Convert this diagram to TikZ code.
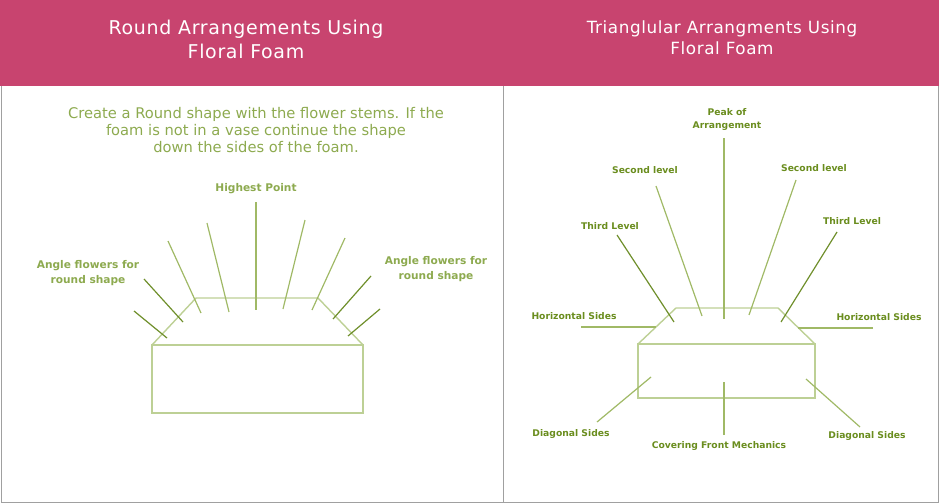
\documentclass[tikz,border=0pt]{standalone}
\usepackage{fontspec}
\setmainfont{DejaVu Sans}

\definecolor{kopf}{HTML}{C8446F}
\definecolor{textgruen}{HTML}{8DAA4F}
\definecolor{dunkelgruen}{HTML}{6A8D1E}
\definecolor{stielgruen}{HTML}{A0B966}
\definecolor{winkelgruen}{HTML}{6F8F2B}
\definecolor{schaumgruen}{HTML}{BDD095}
\definecolor{rahmengrau}{HTML}{A0A0A0}

\begin{document}
\begin{tikzpicture}[x=1pt,y=-1pt,
    titel/.style={text=white, align=center, font=\fontsize{19}{24}\selectfont\addfontfeature{LetterSpace=3.5}},
    titelklein/.style={text=white, align=center, font=\fontsize{16.8}{21}\selectfont\addfontfeature{LetterSpace=3.5}},
    hinweis/.style={text=textgruen, align=center, font=\fontsize{14.7}{17}\selectfont},
    marke/.style={text=textgruen, align=center, inner sep=0pt, font=\bfseries\fontsize{10.6}{15}\selectfont},
    markeR/.style={text=dunkelgruen, align=center, inner sep=0pt, font=\bfseries\fontsize{9.2}{13}\selectfont},
    stiel/.style={draw=stielgruen, line width=1.2pt},
    winkel/.style={draw=winkelgruen, line width=1.2pt},
    schaum/.style={draw=schaumgruen, line width=1.4pt},
    rahmen/.style={draw=rahmengrau, line width=1pt}]

  \useasboundingbox (0,0) rectangle (939,503);

  % Kopfzeile
  \fill[kopf] (0,0) rectangle (939,86);
  \node[titel] (titelL) at (246,39) {Round Arrangements Using\\Floral Foam};
  \node[titelklein] (titelR) at (722,37.5) {Trianglular Arrangments Using\\Floral Foam};

  % Rahmen
  \draw[rahmen] (1,86) -- (1,502) -- (938,502) -- (938,86);
  \draw[rahmen] (503,86) -- (503,502);

  % ---------------- links: rund ----------------
  \node[hinweis] (text) at (256,130) {Create a Round shape with the flower stems. If the\\
    foam is not in a vase continue the shape\\down the sides of the foam.};
  \node[marke] (hoch) at (256,189) {Highest Point};
  \node[marke] (winkelL) at (88,273.5) {Angle flowers for\\round shape};
  \node[marke] (winkelR) at (436,269.5) {Angle flowers for\\round shape};

  % Steckschaum
  \draw[schaum] (152,345) -- (196,298) -- (318,298) -- (363,345);
  \draw[schaum] (152,345) rectangle (363,413);

  % Stiele
  \coordinate (a1) at (256,202); \coordinate (b1) at (256,310);
  \coordinate (a2) at (305,220); \coordinate (b2) at (283,309);
  \coordinate (a3) at (207,223); \coordinate (b3) at (229,312);
  \coordinate (a4) at (168,241); \coordinate (b4) at (201,313);
  \coordinate (a5) at (345,238); \coordinate (b5) at (312,310);
  \foreach \i in {1,...,5}
    \draw[stiel] (a\i) -- (b\i);

  % schraege Stiele
  \coordinate (c1) at (144,279); \coordinate (d1) at (183,322);
  \coordinate (c2) at (134,311); \coordinate (d2) at (167,338);
  \coordinate (c3) at (371,276); \coordinate (d3) at (333,319);
  \coordinate (c4) at (380,309); \coordinate (d4) at (348,336);
  \foreach \i in {1,...,4}
    \draw[winkel] (c\i) -- (d\i);

  % ---------------- rechts: dreieckig ----------------
  \node[markeR] (spitze) at (727,119.5) {Peak of\\Arrangement};
  \node[markeR] (zweiteL) at (645,170) {Second level};
  \node[markeR] (zweiteR) at (814,168) {Second level};
  \node[markeR] (dritteL) at (610,226) {Third Level};
  \node[markeR] (dritteR) at (852,221) {Third Level};
  \node[markeR] (waagL) at (574,316) {Horizontal Sides};
  \node[markeR] (waagR) at (879,317) {Horizontal Sides};
  \node[markeR] (diagL) at (571,434) {Diagonal Sides};
  \node[markeR] (diagR) at (867,436) {Diagonal Sides};
  \node[markeR] (front) at (719,446) {Covering Front Mechanics};

  % Steckschaum
  \draw[schaum] (638,344) -- (676,308) -- (778,308) -- (815,344);
  \draw[schaum] (638,344) rectangle (815,398);

  % Linien oben
  \coordinate (p1) at (724,138); \coordinate (q1) at (724,319);
  \coordinate (p2) at (656,186); \coordinate (q2) at (702,316);
  \coordinate (p3) at (796,180); \coordinate (q3) at (749,315);
  \foreach \i in {1,2,3}
    \draw[stiel] (p\i) -- (q\i);
  \coordinate (p4) at (617,235); \coordinate (q4) at (674,322);
  \coordinate (p5) at (837,232); \coordinate (q5) at (781,322);
  \foreach \i in {4,5}
    \draw[winkel] (p\i) -- (q\i);

  % Linien seitlich und unten
  \coordinate (h1) at (581,327); \coordinate (k1) at (656,327);
  \coordinate (h2) at (873,328); \coordinate (k2) at (798,328);
  \coordinate (h3) at (597,422); \coordinate (k3) at (651,377);
  \coordinate (h4) at (860,427); \coordinate (k4) at (806,379);
  \coordinate (h5) at (724,435); \coordinate (k5) at (724,382);
  \foreach \i in {1,...,5}
    \draw[stiel] (h\i) -- (k\i);

\end{tikzpicture}
\end{document}
